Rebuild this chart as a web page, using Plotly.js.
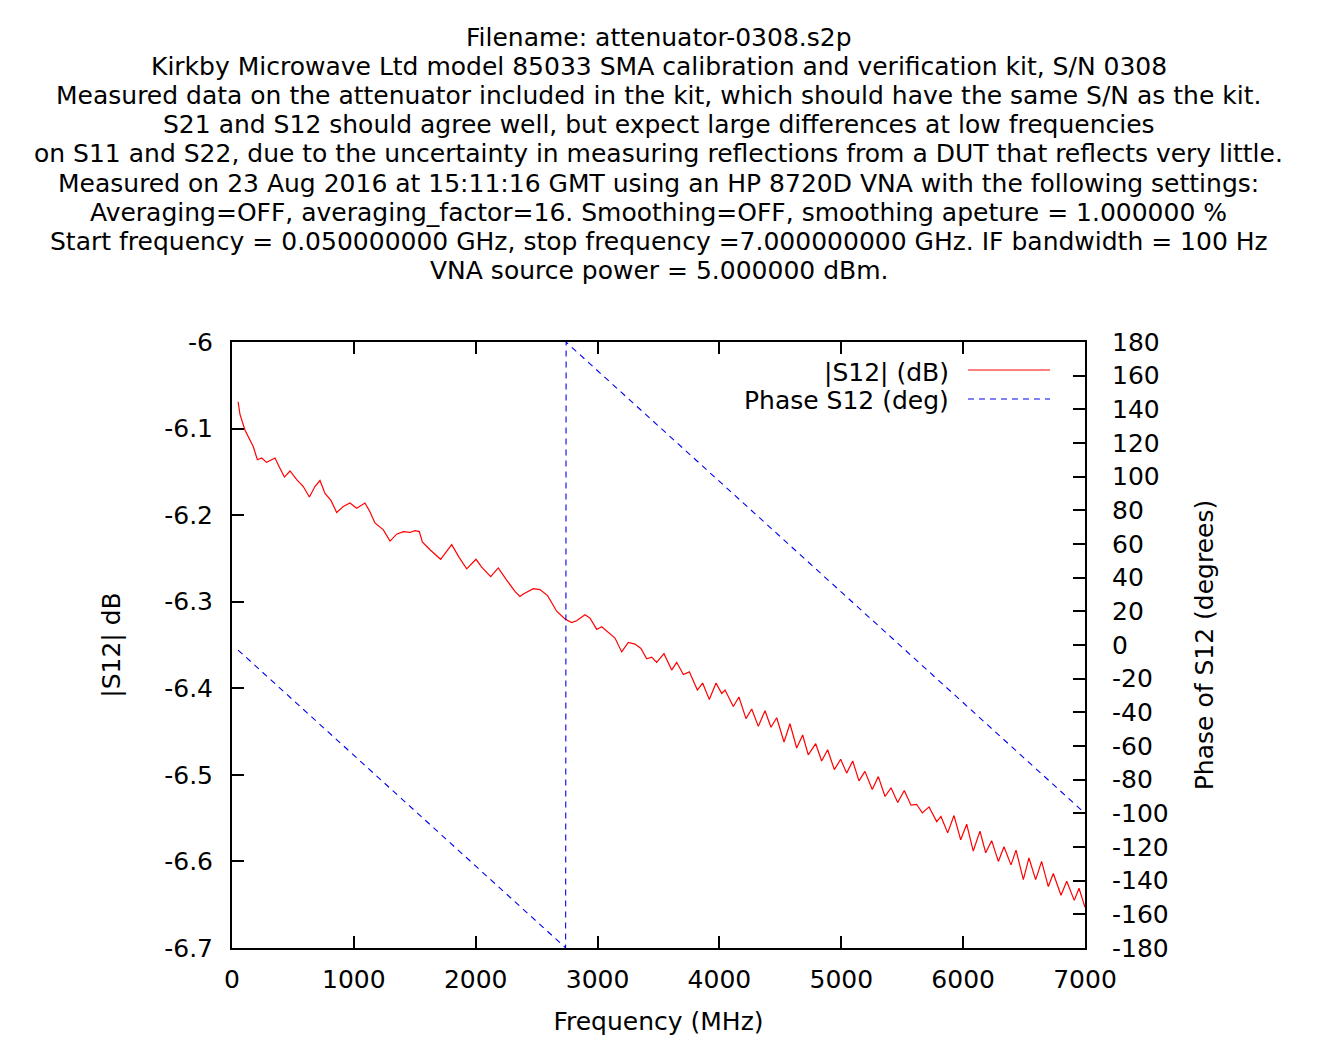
<!DOCTYPE html>
<html>
<head>
<meta charset="utf-8">
<script src="https://cdn.plot.ly/plotly-3.0.1.min.js"></script>
<style>html,body{margin:0;padding:0;background:#fff;}#chart{width:1318px;height:1049px;}</style>
</head>
<body>
<div id="chart"></div>
<script>
// Frequency (MHz) and |S12| (dB)
const magFreq = [50,66,107,148,175,208,243,284,325,353,380,430,476,531,585,635,681,722,763,812,859,913,968,1023,1091,1132,1173,1242,1297,1351,1406,1461,1502,1537,1562,1625,1712,1803,1865,1926,2002,2049,2123,2185,2254,2322,2363,2391,2473,2527,2590,2664,2733,2787,2828,2897,2938,2993,3034,3088,3143,3198,3252,3307,3356,3403,3444,3485,3545,3608,3649,3704,3753,3819,3862,3917,3972,4019,4046,4114,4160,4218,4265,4319,4374,4423,4470,4530,4579,4634,4683,4729,4790,4839,4888,4943,4995,5044,5094,5145,5194,5254,5304,5359,5408,5463,5517,5572,5618,5665,5720,5783,5818,5873,5925,5980,6029,6083,6138,6185,6234,6289,6335,6393,6434,6494,6540,6595,6644,6699,6740,6803,6850,6912,6951,7000];
const magDb = [-6.069,-6.084,-6.102,-6.113,-6.121,-6.136,-6.134,-6.139,-6.136,-6.134,-6.142,-6.156,-6.149,-6.159,-6.167,-6.179,-6.167,-6.160,-6.175,-6.183,-6.197,-6.190,-6.186,-6.192,-6.186,-6.196,-6.209,-6.217,-6.230,-6.222,-6.219,-6.220,-6.218,-6.219,-6.231,-6.240,-6.251,-6.234,-6.249,-6.262,-6.251,-6.260,-6.271,-6.261,-6.275,-6.288,-6.294,-6.291,-6.285,-6.286,-6.293,-6.311,-6.320,-6.324,-6.322,-6.315,-6.319,-6.332,-6.329,-6.335,-6.342,-6.358,-6.347,-6.349,-6.354,-6.366,-6.364,-6.370,-6.360,-6.379,-6.370,-6.384,-6.381,-6.402,-6.394,-6.413,-6.394,-6.406,-6.402,-6.421,-6.410,-6.435,-6.424,-6.444,-6.426,-6.445,-6.434,-6.462,-6.441,-6.469,-6.454,-6.477,-6.464,-6.484,-6.471,-6.494,-6.482,-6.498,-6.484,-6.507,-6.496,-6.517,-6.502,-6.525,-6.515,-6.532,-6.518,-6.535,-6.534,-6.544,-6.537,-6.554,-6.548,-6.567,-6.547,-6.575,-6.557,-6.588,-6.565,-6.590,-6.576,-6.600,-6.583,-6.604,-6.587,-6.621,-6.596,-6.621,-6.600,-6.629,-6.614,-6.639,-6.623,-6.645,-6.631,-6.653];

// Phase of S12 (degrees), wrapped
const phaseFreq = [50, 2738, 2742, 7000];
const phaseDeg = [-3, -179.9, 179.9, -100];

// Tick values / labels
const xTickVals = [0,1000,2000,3000,4000,5000,6000,7000];
const xTickText = ["0","1000","2000","3000","4000","5000","6000","7000"];
const yTickVals = [-6,-6.1,-6.2,-6.3,-6.4,-6.5,-6.6,-6.7];
const yTickText = ["-6","-6.1","-6.2","-6.3","-6.4","-6.5","-6.6","-6.7"];
const y2TickVals = [180,160,140,120,100,80,60,40,20,0,-20,-40,-60,-80,-100,-120,-140,-160,-180];
const y2TickText = ["180","160","140","120","100","80","60","40","20","0","-20","-40","-60","-80","-100","-120","-140","-160","-180"];

const titleLines = [
 "Filename: attenuator-0308.s2p",
 "Kirkby Microwave Ltd model 85033 SMA calibration and verification kit, S/N 0308",
 "Measured data on the attenuator included in the kit, which should have the same S/N as the kit.",
 "S21 and S12 should agree well, but expect large differences at low frequencies",
 "on S11 and S22, due to the uncertainty in measuring reflections from a DUT that reflects very little.",
 "Measured on 23 Aug 2016 at 15:11:16 GMT using an HP 8720D VNA with the following settings:",
 "Averaging=OFF, averaging_factor=16. Smoothing=OFF, smoothing apeture = 1.000000 %",
 "Start frequency = 0.050000000 GHz, stop frequency =7.000000000 GHz. IF bandwidth = 100 Hz",
 "VNA source power = 5.000000 dBm."
];
const legendNames = ["|S12| (dB)", "Phase S12 (deg)"];

const FONT = "DejaVu Sans, Liberation Sans, Arial, sans-serif";
const FS = 25;

const traces = [
 {x: magFreq, y: magDb, type: "scatter", mode: "lines", name: legendNames[0],
  line: {color: "#ff0000", width: 1.2}, yaxis: "y", showlegend: false},
 {x: phaseFreq, y: phaseDeg, type: "scatter", mode: "lines", name: legendNames[1],
  line: {color: "#0000ee", width: 1.1, dash: "6px,5px"}, yaxis: "y2", showlegend: false}
];

const axisCommon = {
  showgrid: false, zeroline: false, showline: true, linecolor: "#000", linewidth: 2,
  ticks: "inside", ticklen: 12, tickwidth: 2, tickcolor: "#000",
  tickfont: {family: FONT, size: FS, color: "#000"}, tickmode: "array"
};

// plot area spans pixels 342..948 vertically (606 px)
const plotTop = 342, plotH = 606;
const pyToPaper = py => (plotTop + plotH - py) / plotH;

const titleAnn = titleLines.map((t, i) => ({
  text: t, xref: "paper", yref: "paper", x: 0.5, y: pyToPaper(37 + 29.2 * i),
  xanchor: "center", yanchor: "middle", showarrow: false,
  font: {family: FONT, size: FS, color: "#000"}
}));

const layout = {
  width: 1318, height: 1049,
  paper_bgcolor: "#fff", plot_bgcolor: "#fff",
  margin: {l: 232, r: 233, t: 342, b: 101},
  font: {family: FONT, color: "#000"},
  xaxis: Object.assign({}, axisCommon, {
    range: [0, 7000], tickvals: xTickVals, ticktext: xTickText, mirror: "ticks",
    ticklabelstandoff: 8,
    title: {text: "Frequency (MHz)", font: {family: FONT, size: FS, color: "#000"}, standoff: 19}
  }),
  yaxis: Object.assign({}, axisCommon, {
    range: [-6.7, -6], tickvals: yTickVals, ticktext: yTickText,
    ticklabelstandoff: 12,
    title: {text: "|S12| dB", font: {family: FONT, size: FS, color: "#000"}, standoff: 36}
  }),
  yaxis2: Object.assign({}, axisCommon, {
    range: [-180, 180], tickvals: y2TickVals, ticktext: y2TickText,
    overlaying: "y", side: "right", ticklabelstandoff: 20,
    title: {text: "Phase of S12 (degrees)", font: {family: FONT, size: FS, color: "#000"}, standoff: 28}
  }),
  annotations: titleAnn.concat([
    {text: legendNames[0], xref: "paper", yref: "paper", x: 0.8428, y: pyToPaper(372), xanchor: "right", yanchor: "middle",
     showarrow: false, font: {family: FONT, size: FS, color: "#000"}},
    {text: legendNames[1], xref: "paper", yref: "paper", x: 0.8428, y: pyToPaper(400), xanchor: "right", yanchor: "middle",
     showarrow: false, font: {family: FONT, size: FS, color: "#000"}}
  ]),
  shapes: [
    {type: "line", xref: "paper", yref: "paper", x0: 0.8628, x1: 0.959, y0: pyToPaper(370), y1: pyToPaper(370),
     line: {color: "#ff0000", width: 1.2}},
    {type: "line", xref: "paper", yref: "paper", x0: 0.8628, x1: 0.959, y0: pyToPaper(399), y1: pyToPaper(399),
     line: {color: "#0000ee", width: 1.1, dash: "6px,5px"}}
  ]
};

Plotly.newPlot("chart", traces, layout, {displayModeBar: false, responsive: false});
</script>
</body>
</html>
